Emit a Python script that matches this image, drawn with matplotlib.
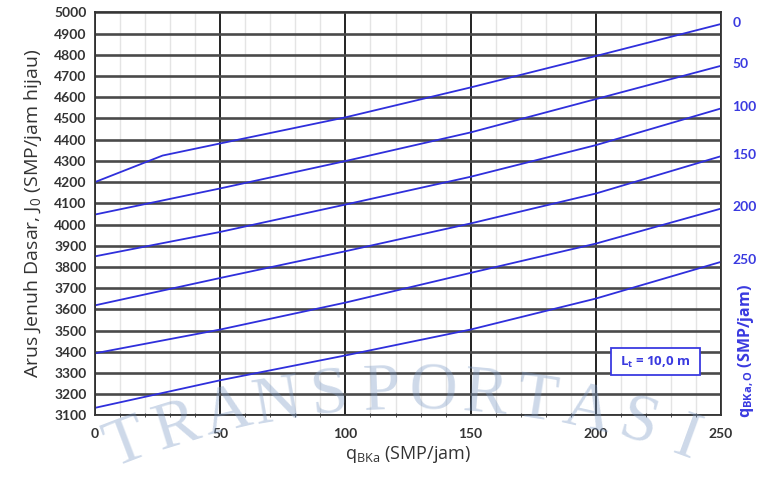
import matplotlib
matplotlib.use('Agg')
import matplotlib.pyplot as plt
import numpy as np
from matplotlib.patches import Rectangle
from matplotlib.ticker import MultipleLocator

plt.rcParams['font.family'] = ['Open Sans', 'DejaVu Sans']
plt.rcParams['mathtext.default'] = 'regular'

# arus jenuh dasar per arus belok kanan lawan (q_BKa,O)
q_bka = [0, 50, 100, 150, 200, 250]
q_bkao = [0, 50, 100, 150, 200, 250]
j0_0 = [4200, 4382, 4505, 4646, 4794, 4945]
j0_50 = [4047, 4170, 4299, 4434, 4591, 4748]
j0_100 = [3850, 3965, 4094, 4225, 4374, 4547]
j0_150 = [3619, 3748, 3874, 4005, 4146, 4322]
j0_200 = [3393, 3505, 3632, 3772, 3910, 4075]
j0_250 = [3136, 3266, 3383, 3505, 3651, 3824]
# garis q_BKa,O = 0 patah di sekitar q_BKa = 27
kink_x, kink_y = 27, 4325

curves = [j0_0, j0_50, j0_100, j0_150, j0_200, j0_250]
line_col = '#2f2fdc'
txt_col = '#3a3ae0'

fig = plt.figure(figsize=(7.57, 4.79), dpi=100)
ax = fig.add_axes([0.1255, 0.1326, 0.827, 0.8417])

ax.set_xlim(0, 250)
ax.set_ylim(3100, 5000)
ax.xaxis.set_major_locator(MultipleLocator(50))
ax.xaxis.set_minor_locator(MultipleLocator(10))
ax.yaxis.set_major_locator(MultipleLocator(100))

ax.grid(True, which='minor', axis='x', color='#e4e4e4', lw=1.0)
ax.grid(True, which='major', axis='x', color='#111111', lw=1.3)
ax.grid(True, which='major', axis='y', color='#4a4a4a', lw=1.9)
ax.set_axisbelow(True)
for s in ax.spines.values():
    s.set_color('#333333')
    s.set_linewidth(1.3)

ax.tick_params(axis='both', which='major', length=0, pad=6)
ax.tick_params(axis='x', which='minor', length=3, direction='inout', color='#333333')
for lab in ax.get_xticklabels() + ax.get_yticklabels():
    lab.set_fontfamily('Lato')
    lab.set_fontweight('bold')
    lab.set_fontsize(10)
    lab.set_color('#333333')
ax.tick_params(axis='x', pad=9)

for q, ys in zip(q_bkao, curves):
    xs = list(q_bka)
    yv = list(ys)
    if q == 0:
        xs.insert(1, kink_x)
        yv.insert(1, kink_y)
    ax.plot(xs, yv, color=line_col, lw=1.3)
    ax.annotate(str(q), (xs[-1], yv[-1]), xytext=(8, 1), textcoords='offset points',
                ha='left', va='center', color=txt_col, fontsize=10,
                fontweight='bold', family='Lato', annotation_clip=False)

ax.set_ylabel('Arus Jenuh Dasar, J$_0$ (SMP/jam hijau)', fontsize=14,
              color='#333333', labelpad=7)
ax.set_xlabel('q$_{BKa}$ (SMP/jam)', fontsize=13, color='#333333', labelpad=3)
ax.text(1.04, 0.16, 'q$_{BKa,O}$ (SMP/jam)', transform=ax.transAxes, rotation=90,
        ha='center', va='center', fontsize=11.5, fontweight='bold', color=txt_col)

# kotak keterangan panjang lajur
ax.add_patch(Rectangle((206, 3289), 35.5, 127, fill=True, facecolor='white',
                       edgecolor=txt_col, lw=1.3, zorder=4))
ax.text(223.7, 3352, 'L$_t$ = 10,0 m', ha='center', va='center', fontsize=9.5,
        fontweight='bold', color=txt_col, zorder=5)

# tanda air melengkung
word = 'TRANSPORTASI'
cx, top, rad, step = 412, 392, 800, 52
angs = (np.arange(len(word)) - 5.6) * step / rad
for ch, a in zip(word, angs):
    px = cx + rad * np.sin(a)
    py = top + rad * (1 - np.cos(a))
    fig.text(px / 757, 1 - py / 479, ch, ha='center', va='center',
             rotation=-np.rad2deg(a), fontsize=48, family='Liberation Serif',
             color='#7d9bc6', alpha=0.38, zorder=10)

fig.savefig('out.png', dpi=100)
